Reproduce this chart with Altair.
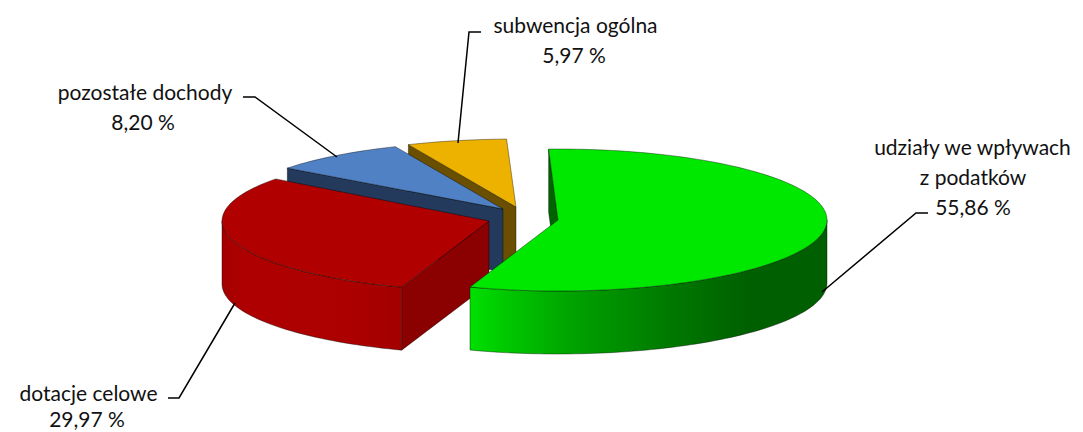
import math
import altair as alt
import pandas as pd

# ---- values
names = ["udziały we wpływach z podatków", "dotacje celowe", "pozostałe dochody", "subwencja ogólna"]
shares = [55.86, 29.97, 8.20, 5.97]
share_labels = ["55,86 %", "29,97 %", "8,20 %", "5,97 %"]

# ---- layout of the drawing (page pixels)
W, H = 1067, 424
START = -2.0
DEPTH = 63
geometry = [  # cx, cy, rx, ry per slice
    (558, 220, 269, 71),
    (489, 221, 267, 70),
    (503, 209, 270, 68),
    (516, 207, 270, 68),
]
xs = alt.Scale(domain=[8, 8 + W], nice=False, zero=False)
ys = alt.Scale(domain=[8 + H, 8], nice=False, zero=False)


def spans():
    out, t = [], START
    for s in shares:
        out.append((t, t + s * 3.6))
        t += s * 3.6
    return out


def pt(g, t, drop=0):
    cx, cy, rx, ry = g
    r = math.radians(t)
    return (cx + rx * math.sin(r), cy - ry * math.cos(r) + drop)


def arc(g, a, b, drop=0):
    n = max(2, int(abs(b - a) / 1.5))
    return [pt(g, a + (b - a) * i / n, drop) for i in range(n + 1)]


def poly(points, fill, stroke="#000000", sw=0.7, so=0.55):
    pts = list(points) + [points[0]]
    df = pd.DataFrame({"i": range(len(pts)), "x": [p[0] for p in pts], "y": [p[1] for p in pts]})
    return alt.Chart(df).mark_line(fill=fill, stroke=stroke, strokeWidth=sw, strokeOpacity=so, interpolate="linear").encode(
        x=alt.X("x:Q", scale=xs, axis=None),
        y=alt.Y("y:Q", scale=ys, axis=None),
        order=alt.Order("i:Q"),
    )


def grad(stops):
    return alt.Gradient(gradient="linear", x1=0, x2=1, y1=0, y2=0,
                        stops=[alt.GradientStop(offset=o, color=c) for o, c in stops])


def top(g, a, b, fill):
    return poly([(g[0], g[1])] + arc(g, a, b), fill)


def face(g, t, fill):
    c, e = (g[0], g[1]), pt(g, t)
    return poly([c, e, (e[0], e[1] + DEPTH), (c[0], c[1] + DEPTH)], fill)


def rim(g, a, b, fill):
    return poly(arc(g, a, b) + arc(g, b, a, DEPTH), fill)


sp = spans()
layers = [
    # yellow slice, back
    face(geometry[3], sp[3][0], "#6b4f00"),
    top(geometry[3], *sp[3], "#edb100"),
    # blue slice
    face(geometry[2], sp[2][0], "#233a5c"),
    top(geometry[2], *sp[2], "#4f81c4"),
    # red slice
    face(geometry[1], sp[1][0], "#8b0000"),
    rim(geometry[1], sp[1][0], 270, grad([(0, "#a30000"), (0.12, "#ae0000"), (0.7, "#ac0000"), (1, "#a30000")])),
    top(geometry[1], *sp[1], "#b00000"),
    # green slice
    face(geometry[0], sp[0][0], "#006400"),
    rim(geometry[0], 90, sp[0][1], grad([(0, "#00e000"), (0.1, "#00c800"), (0.3, "#00a000"), (0.55, "#007a00"), (0.78, "#006000"), (1, "#005f00")])),
    top(geometry[0], *sp[0], "#00e800"),
]

leaders = [
    [(928, 213), (916, 213), (822, 292)],
    [(168, 398), (179, 398), (235, 303)],
    [(243, 97), (255, 97), (337, 157)],
    [(481, 32), (469, 32), (458, 143)],
]
for l in leaders:
    df = pd.DataFrame({"i": range(3), "x": [p[0] for p in l], "y": [p[1] for p in l]})
    layers.append(alt.Chart(df).mark_line(color="#000000", strokeWidth=1.5).encode(
        x=alt.X("x:Q", scale=xs, axis=None), y=alt.Y("y:Q", scale=ys, axis=None), order=alt.Order("i:Q")))

texts = pd.DataFrame([
    {"t": "udziały we wpływach", "x": 972.5, "y": 155},
    {"t": "z podatków", "x": 973, "y": 185},
    {"t": share_labels[0], "x": 973, "y": 215},
    {"t": names[1], "x": 88.5, "y": 401},
    {"t": share_labels[1], "x": 87, "y": 427},
    {"t": names[2], "x": 145, "y": 100},
    {"t": share_labels[2], "x": 143, "y": 130},
    {"t": names[3], "x": 575.5, "y": 33},
    {"t": share_labels[3], "x": 574, "y": 63},
])
layers.append(alt.Chart(texts).mark_text(font="Lato", fontSize=21, align="center", baseline="alphabetic", color="#111111").encode(
    x=alt.X("x:Q", scale=xs, axis=None), y=alt.Y("y:Q", scale=ys, axis=None), text="t:N"))

chart = alt.layer(*layers).properties(width=W, height=H, padding=0, autosize=alt.AutoSizeParams(type="none")).configure_view(stroke=None, clip=False)
chart.save("out.html", embed_options={"renderer": "svg", "actions": False})
